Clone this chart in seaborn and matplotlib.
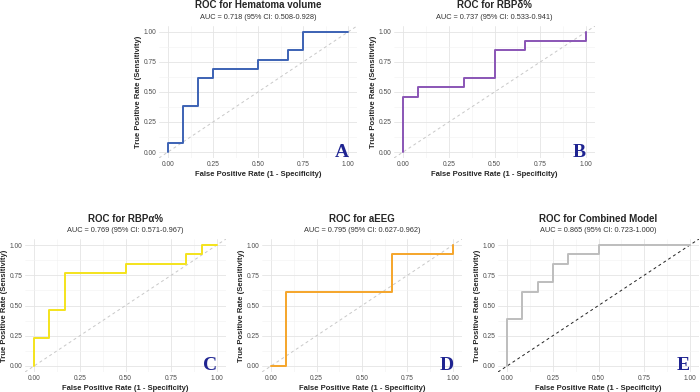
import matplotlib
matplotlib.use("Agg")
import matplotlib.pyplot as plt
import seaborn as sns
import pandas as pd
from matplotlib.ticker import MultipleLocator

# ROC step curves (12 negatives, 13 positives)
hema_fpr = [0, 0, 1/12, 1/12, 2/12, 2/12, 3/12, 3/12, 6/12, 6/12, 8/12, 8/12, 9/12, 9/12, 1]
hema_tpr = [0, 1/13, 1/13, 5/13, 5/13, 8/13, 8/13, 9/13, 9/13, 10/13, 10/13, 11/13, 11/13, 1, 1]

rbpd_fpr = [0, 0, 1/12, 1/12, 4/12, 4/12, 6/12, 6/12, 8/12, 8/12, 1, 1]
rbpd_tpr = [0, 6/13, 6/13, 7/13, 7/13, 8/13, 8/13, 11/13, 11/13, 12/13, 12/13, 1]

rbpa_fpr = [0, 0, 1/12, 1/12, 2/12, 2/12, 6/12, 6/12, 10/12, 10/12, 11/12, 11/12, 1]
rbpa_tpr = [0, 3/13, 3/13, 6/13, 6/13, 10/13, 10/13, 11/13, 11/13, 12/13, 12/13, 1, 1]

aeeg_fpr = [0, 1/12, 1/12, 8/12, 8/12, 1, 1]
aeeg_tpr = [0, 0, 8/13, 8/13, 12/13, 12/13, 1]

comb_fpr = [0, 0, 1/12, 1/12, 2/12, 2/12, 3/12, 3/12, 4/12, 4/12, 6/12, 6/12, 1]
comb_tpr = [0, 5/13, 5/13, 8/13, 8/13, 9/13, 9/13, 11/13, 11/13, 12/13, 12/13, 1, 1]

titles = ["ROC for Hematoma volume", "ROC for RBPδ%", "ROC for RBPα%", "ROC for aEEG", "ROC for Combined Model"]
subtitles = [
    "AUC = 0.718 (95% CI: 0.508-0.928)",
    "AUC = 0.737 (95% CI: 0.533-0.941)",
    "AUC = 0.769 (95% CI: 0.571-0.967)",
    "AUC = 0.795 (95% CI: 0.627-0.962)",
    "AUC = 0.865 (95% CI: 0.723-1.000)",
]
letters = ["A", "B", "C", "D", "E"]
colors = ["#3c62b4", "#8a55b6", "#f4e31c", "#f5a52a", "#bdbdbd"]
curves = [(hema_fpr, hema_tpr), (rbpd_fpr, rbpd_tpr), (rbpa_fpr, rbpa_tpr),
          (aeeg_fpr, aeeg_tpr), (comb_fpr, comb_tpr)]
tick_vals = [0, 0.25, 0.5, 0.75, 1.0]
tick_text = ["0.00", "0.25", "0.50", "0.75", "1.00"]

sns.set_theme(style="whitegrid")
plt.rcParams["font.family"] = ["Liberation Sans", "DejaVu Sans"]

W, H = 700, 392
fig = plt.figure(figsize=(7, 3.92), dpi=100)

# axes boxes in pixels: left, right, top, bottom
boxes = [(159, 357, 26, 158), (394, 595, 26, 158),
         (25, 226, 239, 372), (262, 462, 239, 372), (498, 699, 239, 372)]

for i, (fpr, tpr) in enumerate(curves):
    l, r, t, b = boxes[i]
    ax = fig.add_axes([l / W, 1 - b / H, (r - l) / W, (b - t) / H])
    ax.set_facecolor("white")
    for s in ax.spines.values():
        s.set_visible(False)
    ax.set_xlim(-0.05, 1.05)
    ax.set_ylim(-0.05, 1.05)
    ax.xaxis.set_minor_locator(MultipleLocator(0.125))
    ax.yaxis.set_minor_locator(MultipleLocator(0.125))
    ax.set_xticks(tick_vals)
    ax.set_xticklabels(tick_text)
    ax.set_yticks(tick_vals)
    ax.set_yticklabels(tick_text)
    ax.grid(which="major", color="#e4e4e4", lw=0.6)
    ax.grid(which="minor", color="#f1f1f1", lw=0.4)
    ax.tick_params(which="both", length=0, labelsize=4.8, labelcolor="#4d4d4d", pad=2)

    if i == 4:
        ax.axline((0, 0), (1, 1), color="#222222", lw=0.7, ls=(0, (3, 3)))
    else:
        ax.axline((0, 0), (1, 1), color="#c8c8c8", lw=0.7, ls=(0, (3, 3)))

    df = pd.DataFrame({"fpr": fpr, "tpr": tpr})
    sns.lineplot(data=df, x="fpr", y="tpr", sort=False, estimator=None,
                 color=colors[i], lw=1.4, ax=ax)

    ax.set_xlabel("False Positive Rate (1 - Specificity)", fontsize=5.5, fontweight="bold", labelpad=2)
    ax.set_ylabel("True Positive Rate (Sensitivity)", fontsize=5.5, fontweight="bold", labelpad=0.8)

    cx = (l + r) / 2 / W
    fig.text(cx, 1 - (t - 20.5) / H, titles[i], ha="center", va="center", fontsize=7, fontweight="bold")
    fig.text(cx, 1 - (t - 8.5) / H, subtitles[i], ha="center", va="center", fontsize=5.3, color="#333333")

    ax.text(0.965, 0.0, letters[i], ha="center", va="center", fontsize=14, fontweight="bold",
            color="#1f2491", family=["Liberation Serif", "DejaVu Serif"])

fig.savefig("out.png", dpi=100)
